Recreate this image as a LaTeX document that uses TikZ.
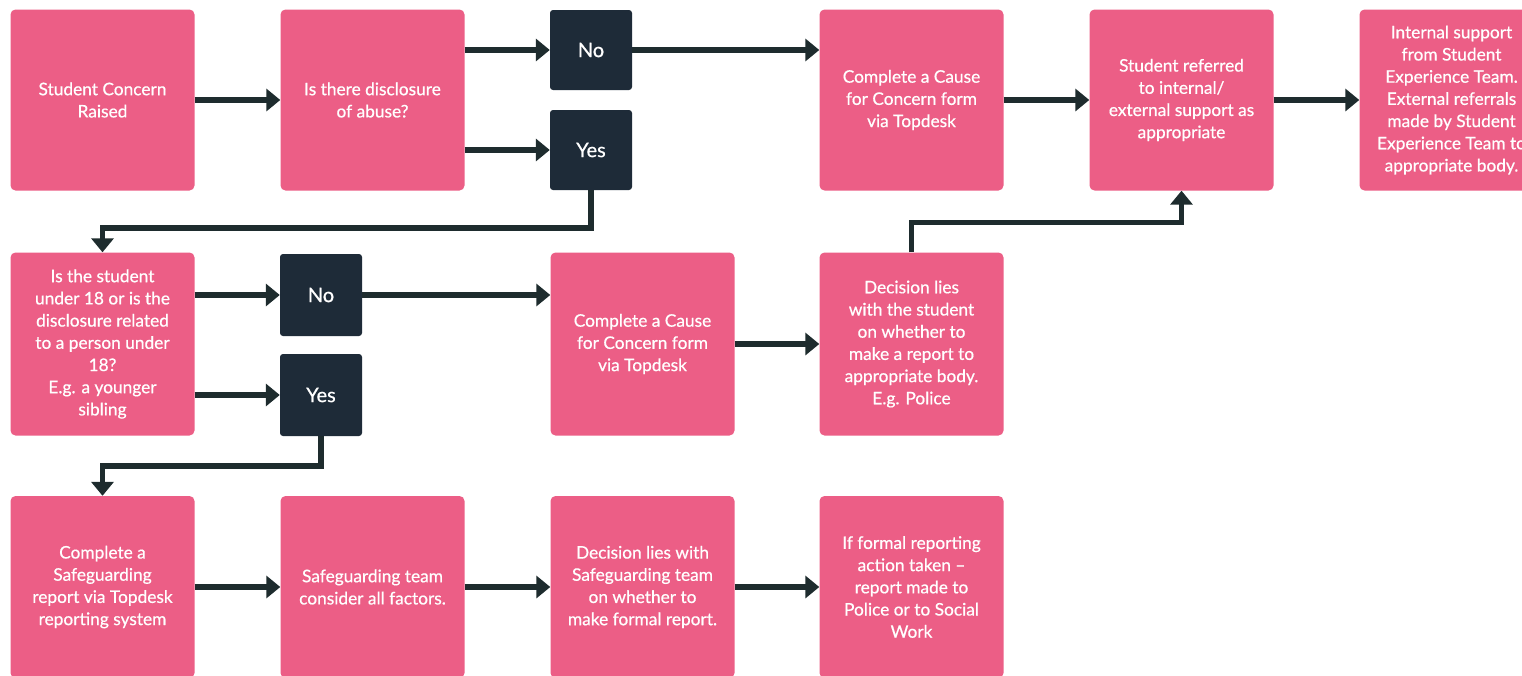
\documentclass[tikz,border=0pt]{standalone}
\usepackage{fontspec}
\setmainfont{Lato}
\newfontfamily\boxfont[FakeBold=0.6,Ligatures=TeX]{Lato}
\usetikzlibrary{arrows.meta}
\definecolor{pinkbox}{RGB}{236,94,134}
\definecolor{darkbox}{RGB}{30,43,56}
\definecolor{arrowc}{RGB}{30,44,46}
\tikzset{
  pbox/.style={rectangle, rounded corners=5pt, fill=pinkbox, text=white, align=center,
    minimum width=184pt, minimum height=181pt, inner sep=2pt,
    font=\boxfont\fontsize{17.3}{22.2}\selectfont},
  dbox/.style={rectangle, rounded corners=3pt, fill=darkbox, text=white, align=center,
    minimum width=82pt, minimum height=80pt, font=\boxfont\fontsize{20}{22}\selectfont},
  arr/.style={draw=arrowc, line width=5.5pt, -{Triangle[length=14pt,width=22pt]}},
}
\begin{document}
\begin{tikzpicture}[x=1pt,y=-1pt]
\useasboundingbox[fill=white] (0,0) rectangle (1522,675);
% row 1
\node[pbox] (A) at (102.5,100) {Student Concern\\Raised};
\node[pbox] (B) at (372.5,100) {Is there disclosure\\of abuse?};
\node[dbox] (NoA) at (591,50) {No};
\node[dbox] (YesA) at (591,150) {Yes};
\node[pbox] (C) at (911.5,100) {Complete a Cause\\for Concern form\\via Topdesk};
\node[pbox] (D) at (1181.5,100) {Student referred\\to internal/\\external support as\\appropriate};
\node[pbox] (E) at (1451.5,100) {Internal support\\from Student\\Experience Team.\\External referrals\\made by Student\\Experience Team to\\appropriate body.};
% row 2
\node[pbox, minimum height=183pt] (F) at (102.5,344) {Is the student\\under 18 or is the\\disclosure related\\to a person under\\18?\\E.g. a younger\\sibling};
\node[dbox, minimum height=82pt] (NoB) at (321,295) {No};
\node[dbox, minimum height=82pt] (YesB) at (321,395) {Yes};
\node[pbox, minimum height=183pt] (G) at (642.5,344) {Complete a Cause\\for Concern form\\via Topdesk};
\node[pbox, minimum height=183pt] (H) at (911.5,344) {Decision lies\\with the student\\on whether to\\make a report to\\appropriate body.\\E.g. Police};
% row 3
\node[pbox, minimum height=182pt] (I) at (102.5,587) {Complete a\\Safeguarding\\report via Topdesk\\reporting system};
\node[pbox, minimum height=182pt] (J) at (372.5,587) {Safeguarding team\\consider all factors.};
\node[pbox, minimum height=182pt] (K) at (642.5,587) {Decision lies with\\Safeguarding team\\on whether to\\make formal report.};
\node[pbox, minimum height=182pt] (L) at (911.5,587) {If formal reporting\\action taken –\\report made to\\Police or to Social\\Work};
% connectors row 1
\draw[arr] (A) -- (B);
\draw[arr] (B.east |- NoA) -- (NoA);
\draw[arr] (B.east |- YesA) -- (YesA);
\draw[arr] (NoA.east) -- (C.west |- NoA);
\draw[arr] (C) -- (D);
\draw[arr] (D) -- (E);
\draw[arr] (YesA.south) -- ++(0,38) -| (F.north);
% row 2
\draw[arr] (F.east |- NoB) -- (NoB);
\draw[arr] (F.east |- YesB) -- (YesB);
\draw[arr] (NoB.east) -- (G.west |- NoB);
\draw[arr] (G) -- (H);
\draw[arr] (H.north) -- ++(0,-30) -| (D.south);
\draw[arr] (YesB.south) -- ++(0,30) -| (I.north);
% row 3
\draw[arr] (I) -- (J);
\draw[arr] (J) -- (K);
\draw[arr] (K) -- (L);
\end{tikzpicture}
\end{document}
